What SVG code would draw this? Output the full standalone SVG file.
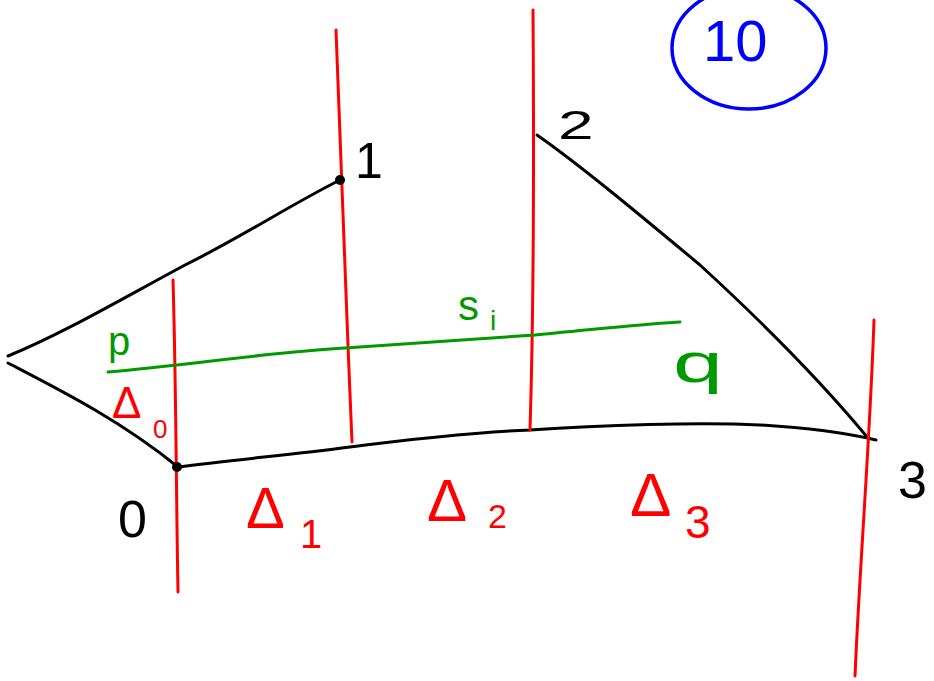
<svg xmlns="http://www.w3.org/2000/svg" width="934" height="681" viewBox="0 0 934 681">
<style>
.k{fill:none;stroke:#000;stroke-width:3;stroke-linecap:round;stroke-linejoin:round}
.r{fill:none;stroke:#f00;stroke-width:3;stroke-linecap:round}
.g{fill:none;stroke:#090;stroke-width:3;stroke-linecap:round}
.t{font-family:"Liberation Sans",Arial,sans-serif}
.tk{fill:#000}.tr{fill:#f00}.tg{fill:#090}.tb{fill:#00f}
</style>
<rect width="934" height="681" fill="#fff"/>
<g id="connectors">
<path class="k" d="M8,356 C60,335 120,300 185,265 C240,238 290,205 340,180"/>
<path class="k" d="M8,363 C60,390 120,420 178,467"/>
<path class="k" d="M178,467 C230,460 290,455 350,447 C420,438 480,432 530,430 C600,425 700,422 760,425 C810,428 850,434 876,440"/>
<path class="k" d="M537,135 C580,165 640,215 700,265 C760,320 820,380 868,438"/>
<path class="r" d="M173,280 C176,380 176,480 178,592"/>
<path class="r" d="M336,30 C340,150 346,300 352,442"/>
<path class="r" d="M533,10 C534,150 534,300 530,430"/>
<path class="r" d="M874,320 C870,440 860,560 855,676"/>
<path class="g" d="M108,372 C190,365 270,352 345,348 C410,343 470,340 535,335 C590,330 640,324 680,322"/>
</g>
<g id="node-1"><circle cx="340" cy="180" r="5" fill="#000"/><text class="t tk" x="355" y="178" font-size="50">1</text></g>
<g id="node-0"><circle cx="177" cy="467" r="5" fill="#000"/><text class="t tk" x="118" y="537" font-size="52">0</text></g>
<g id="node-2"><text class="t tk" x="558" y="139" font-size="40" transform="translate(558,139) scale(1.6,1) translate(-558,-139)">2</text></g>
<g id="node-3"><text class="t tk" x="898" y="498" font-size="52">3</text></g>
<g id="label-p"><text class="t tg" x="108" y="355" font-size="40">p</text></g>
<g id="label-si"><text class="t tg" x="458" y="320" font-size="42">s</text><text class="t tg" x="490" y="330" font-size="28">i</text></g>
<g id="label-q"><text class="t tg" x="673" y="382" font-size="56" transform="translate(673,382) scale(1.6,1) translate(-673,-382)">q</text></g>
<g id="label-d0"><text class="t tr" x="112" y="418" font-size="44">Δ</text><text class="t tr" x="153" y="438" font-size="26">0</text></g>
<g id="label-d1"><text class="t tr" x="246" y="528" font-size="58">Δ</text><text class="t tr" x="300" y="548" font-size="40">1</text></g>
<g id="label-d2"><text class="t tr" x="427" y="521" font-size="60">Δ</text><text class="t tr" x="488" y="528" font-size="34">2</text></g>
<g id="label-d3"><text class="t tr" x="630" y="516" font-size="62">Δ</text><text class="t tr" x="685" y="538" font-size="46">3</text></g>
<g id="badge"><ellipse cx="749" cy="48" rx="77" ry="61" fill="none" stroke="#00f" stroke-width="3.5"/><text class="t tb" x="703" y="61" font-size="58">10</text></g>
</svg>
